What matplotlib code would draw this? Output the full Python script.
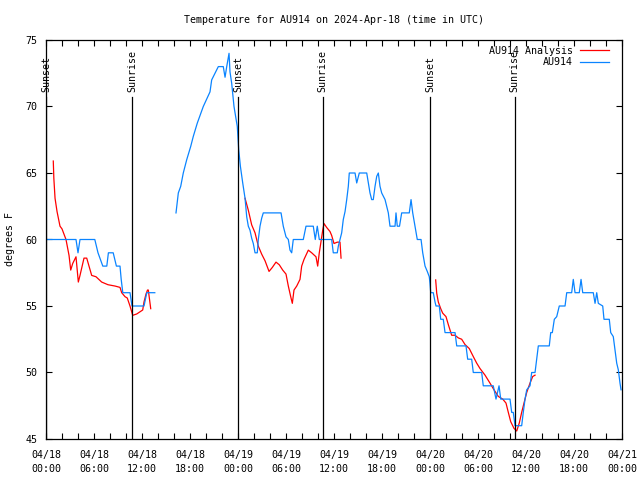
import matplotlib
matplotlib.use("Agg")
import matplotlib.pyplot as plt

# hours since 04/18 00:00 UTC
blue_a_h = [0, 3.75, 4.0, 4.25, 6.1, 6.5, 7.1, 7.6, 7.8, 8.4, 8.8, 9.25, 9.4, 9.6,
            10.5, 10.75, 12.25, 12.6, 13.6]
blue_a_t = [60, 60, 59, 60, 60, 59, 58, 58, 59, 59, 58, 58, 57, 56,
            56, 55, 55, 56, 56]

blue_b_h = [16.25, 16.54, 16.84, 17.16, 17.59, 18.09, 18.41, 18.91, 19.66, 20.5,
            20.71, 21.13, 21.54, 22.16, 22.38, 22.59, 22.88, 23.0, 23.21, 23.5,
            23.91, 24.09, 24.3, 24.59, 24.88, 25.09, 25.29, 25.5, 25.71, 25.91,
            26.13, 26.41, 26.54, 26.75, 26.96, 27.16, 29.38, 29.66, 30.0, 30.29,
            30.5, 30.71, 30.91, 32.16, 32.5, 33.41, 33.66, 33.91, 34.16, 35.71,
            35.91, 36.41, 36.54, 36.75, 36.96, 37.16, 37.38, 37.59, 37.79, 37.91,
            38.63, 38.84, 39.16, 40.09, 40.29, 40.5, 40.71, 40.91, 41.13, 41.34,
            41.54, 41.75, 41.96, 42.38, 42.79, 43.0, 43.63, 43.75, 43.91, 44.19,
            44.46, 45.41, 45.63, 45.84, 46.13, 46.41, 46.88, 47.09, 47.38, 47.66,
            47.91, 48.0, 48.09, 48.41, 48.63, 48.75, 49.16, 49.34, 49.66, 49.88,
            51.13, 51.34, 52.5, 52.71, 53.21, 53.41, 54.46, 54.66, 55.91, 56.25,
            56.63, 56.84, 58.0, 58.21, 58.41, 58.63, 59.46, 59.66, 59.88, 60.09,
            60.5, 60.71, 61.13, 61.34, 61.54, 62.91, 63.09, 63.29, 63.54, 63.84,
            64.16, 64.88, 65.09, 65.71, 65.91, 66.13, 66.66, 66.88, 67.09, 68.41,
            68.63, 68.84, 69.04, 69.59, 69.75, 70.41, 70.59, 70.91, 71.13, 71.34,
            71.54, 71.75, 71.88]
blue_b_t = [62, 63.5, 64, 65, 66, 67, 67.75, 68.75, 70, 71.1,
            72, 72.5, 73, 73, 72.2, 73, 74, 72.6, 71.75, 70,
            68.5, 66.75, 65.5, 64.25, 63.1, 61.7, 61, 60.7, 60.1, 59.7,
            59, 59, 60, 61, 61.6, 62, 62, 61, 60.2, 60,
            59.2, 59, 60, 60, 61, 61, 60, 61, 60, 60,
            59, 59, 59.5, 60, 60.5, 61.5, 62.1, 63, 64, 65,
            65, 64.25, 65, 65, 64.25, 63.5, 63, 63, 64, 64.75,
            65, 64, 63.5, 63, 62, 61, 61, 62, 61, 61,
            62, 62, 63, 62, 61, 60, 60, 59, 58, 57.6,
            57.2, 56.7, 56, 56, 55.3, 55, 55, 54, 54, 53,
            53, 52, 52, 51, 51, 50, 50, 49, 49, 48,
            49, 48, 48, 47, 47, 46, 46, 47, 48, 48.7,
            49, 50, 50, 51, 52, 52, 53, 53, 54, 54.2,
            55, 55, 56, 56, 57, 56, 56, 57, 56, 56,
            55.2, 56, 55.2, 55, 54, 54, 53, 52.7, 51.7, 50.7,
            50.2, 49.2, 48.7]

red_a_h = [0.91, 0.98, 1.13, 1.38, 1.75, 2.0, 2.5, 2.88, 3.09, 3.34, 3.75, 4.04,
           4.25, 4.75, 5.09, 5.71, 6.25, 6.96, 7.75, 8.63, 9.25, 9.46, 9.88,
           10.16, 10.5, 10.84, 11.34, 12.09, 12.25, 12.5, 12.69, 12.79, 13.09]
red_a_t = [65.9, 64.6, 63.1, 62.1, 61, 60.8, 60, 58.8, 57.7, 58.2, 58.7, 56.8,
           57.3, 58.6, 58.6, 57.3, 57.2, 56.8, 56.6, 56.5, 56.4, 56, 55.7,
           55.6, 55, 54.3, 54.4, 54.7, 55.3, 55.9, 56.2, 56.2, 54.8]

red_b_h = [24.88, 25.29, 25.71, 26.13, 26.54, 26.96, 27.38, 27.88, 28.29, 28.75,
           29.16, 29.59, 30.0, 30.29, 30.59, 30.79, 31.0, 31.34, 31.75, 31.96,
           32.25, 32.79, 33.21, 33.75, 33.96, 34.16, 34.34, 34.59, 34.75, 35.09,
           35.5, 35.71, 36.0, 36.41, 36.75, 36.88]
red_b_t = [63.1, 62.2, 61.1, 60.5, 59.5, 58.9, 58.4, 57.6, 57.9, 58.3,
           58.1, 57.7, 57.4, 56.5, 55.7, 55.2, 56.2, 56.5, 57, 58,
           58.5, 59.2, 59, 58.7, 58, 59, 59.7, 60.7, 61.2, 60.9,
           60.6, 60.3, 59.7, 59.8, 59.8, 58.6]

red_c_h = [48.71, 48.84, 49.04, 49.34, 49.59, 50.0, 50.29, 50.71, 51.13, 51.54,
           51.96, 52.38, 52.91, 53.41, 53.84, 54.25, 54.88, 55.5, 56.0, 56.54,
           57.09, 57.5, 57.79, 58.09, 58.5, 58.84, 59.16, 59.46, 59.75, 60.09,
           60.5, 60.84, 61.13]
red_c_t = [56.96, 55.96, 55.3, 54.8, 54.46, 54.2, 53.6, 52.8, 52.8, 52.6,
           52.5, 52.1, 51.8, 51.2, 50.7, 50.3, 49.8, 49.2, 48.7, 48.2,
           48, 47.7, 47, 46.3, 45.8, 45.6, 46.2, 47, 47.7, 48.5,
           49.2, 49.7, 49.8]

sun_h = [0, 10.75, 24.0, 34.6, 48.0, 58.6]
sun_labels = ["Sunset", "Sunrise", "Sunset", "Sunrise", "Sunset", "Sunrise"]

tick_h = [0, 6, 12, 18, 24, 30, 36, 42, 48, 54, 60, 66, 72]
tick_labels = ["04/18\n00:00", "04/18\n06:00", "04/18\n12:00", "04/18\n18:00",
               "04/19\n00:00", "04/19\n06:00", "04/19\n12:00", "04/19\n18:00",
               "04/20\n00:00", "04/20\n06:00", "04/20\n12:00", "04/20\n18:00",
               "04/21\n00:00"]

plt.rcParams['font.family'] = ['DejaVu Sans Mono']
plt.rcParams['font.size'] = 7

RED = "#ff0000"
BLUE = "#0a84ff"

fig = plt.figure(figsize=(6.4, 4.8), dpi=100)
ax = fig.add_axes([46 / 640, 41 / 480, 576 / 640, 399 / 480])

ax.plot(red_a_h, red_a_t, color=RED, lw=0.9, label="AU914 Analysis")
ax.plot(red_b_h, red_b_t, color=RED, lw=0.9)
ax.plot(red_c_h, red_c_t, color=RED, lw=0.9)
ax.plot(blue_a_h, blue_a_t, color=BLUE, lw=0.9, label="AU914")
ax.plot(blue_b_h, blue_b_t, color=BLUE, lw=0.9)

for h, lab in zip(sun_h, sun_labels):
    ax.axvline(h, ymin=0, ymax=0.857, color="black", lw=0.9)
    ax.text(h, 0.87, lab, transform=ax.get_xaxis_transform(), rotation=90,
            ha="center", va="bottom", fontsize=7.2)

ax.set_xlim(0, 72)
ax.set_ylim(45, 75)
ax.set_xticks(tick_h)
ax.set_xticklabels(tick_labels, linespacing=1.5)
ax.set_xticks(range(0, 73, 2), minor=True)
ax.set_yticks([45, 50, 55, 60, 65, 70, 75])
ax.tick_params(which="both", direction="in", top=True, right=True, length=4,
               width=0.8, labelsize=7.2)
ax.tick_params(axis="x", pad=8)
ax.tick_params(axis="y", pad=6)
for s in ax.spines.values():
    s.set_linewidth(0.9)

ax.set_ylabel("degrees F", fontsize=7.2, labelpad=8)
ax.set_title("Temperature for AU914 on 2024-Apr-18 (time in UTC)", fontsize=7.2, pad=12)

ax.legend(loc="upper right", bbox_to_anchor=(1 - 11 / 576, 1 - 4 / 399),
          frameon=False, markerfirst=False, fontsize=7.2,
          handlelength=2.9, borderaxespad=0, labelspacing=0.15, handletextpad=0.7,
          borderpad=0.2)

fig.savefig("out.png", dpi=100)
